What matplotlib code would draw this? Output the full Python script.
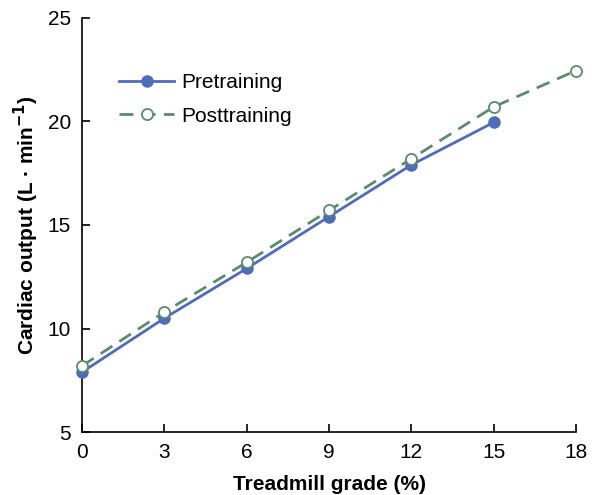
import matplotlib
matplotlib.use('Agg')
import matplotlib.pyplot as plt

plt.rcParams['font.family'] = ['Liberation Sans', 'DejaVu Sans']

# treadmill grade (%) and cardiac output (L/min)
grade_pre = [0, 3, 6, 9, 12, 15]
output_pre = [7.9, 10.5, 12.9, 15.4, 17.9, 19.95]
grade_post = [0, 3, 6, 9, 12, 15, 18]
output_post = [8.2, 10.8, 13.2, 15.7, 18.2, 20.7, 22.45]

blue = '#4e6cba'
green = '#5b8a6f'

fig = plt.figure(figsize=(5.95, 4.95), dpi=100)
ax = fig.add_axes([0.138, 0.127, 0.83, 0.837])

ax.plot(grade_pre, output_pre, color=blue, lw=2, marker='o', ms=8,
        mfc=blue, mec=blue, label='Pretraining', zorder=3, clip_on=False)
ax.plot(grade_post, output_post, color=green, lw=2, ls=(0, (5, 3)),
        marker='o', ms=8, mfc='white', mec=green, mew=1.3,
        label='Posttraining', zorder=4, clip_on=False)

ax.set_xlim(0, 18)
ax.set_ylim(5, 25)
ax.set_xticks(range(0, 19, 3))
ax.set_yticks(range(5, 26, 5))
ax.spines['top'].set_visible(False)
ax.spines['right'].set_visible(False)
for s in ['left', 'bottom']:
    ax.spines[s].set_linewidth(1.2)
ax.tick_params(direction='in', length=6, width=1.2, labelsize=15, pad=8)

ax.set_xlabel('Treadmill grade (%)', fontsize=15, fontweight='bold', labelpad=9)
ax.set_ylabel('Cardiac output (L · min$^{\\mathbf{-1}}$)', fontsize=15,
              fontweight='bold', labelpad=5)

ax.legend(loc='upper left', bbox_to_anchor=(0.037, 0.912), frameon=False,
          fontsize=15, handlelength=2.65, handletextpad=0.35, labelspacing=0.7)

fig.savefig('out.png', dpi=100)
